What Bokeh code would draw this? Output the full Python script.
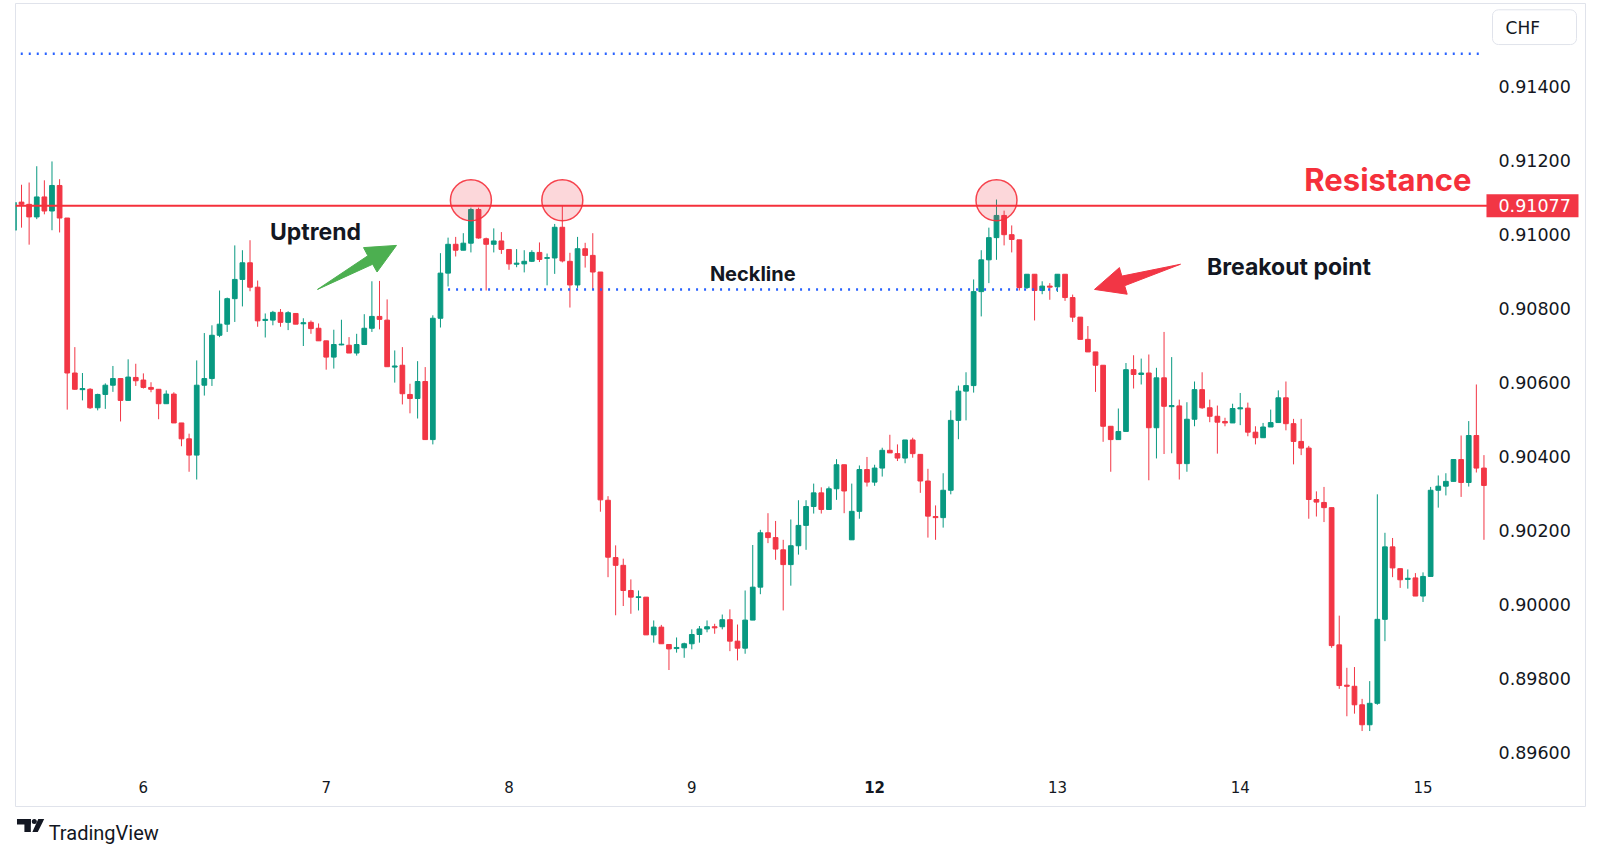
from bokeh.plotting import figure
from bokeh.models import ColumnDataSource, FixedTicker, PrintfTickFormatter, Range1d
from bokeh.layouts import column
from bokeh.embed import file_html
from bokeh.resources import INLINE
from bokeh.core.properties import value

# ---------------- data (hourly candles) ----------------
OPEN = [
    0.91011, 0.91087, 0.91081, 0.91047, 0.91101, 0.91063, 0.91132, 0.91044, 0.90625, 0.90580,
    0.90581, 0.90531, 0.90567, 0.90592, 0.90610, 0.90551, 0.90613, 0.90606, 0.90586, 0.90581,
    0.90542, 0.90568, 0.90490, 0.90447, 0.90403, 0.90592, 0.90610, 0.90727, 0.90757, 0.90826,
    0.90878, 0.90923, 0.90857, 0.90767, 0.90768, 0.90789, 0.90762, 0.90786, 0.90758, 0.90762,
    0.90746, 0.90712, 0.90668, 0.90701, 0.90700, 0.90679, 0.90702, 0.90746, 0.90778, 0.90768,
    0.90641, 0.90646, 0.90567, 0.90556, 0.90602, 0.90445, 0.90773, 0.90895, 0.90973, 0.90957,
    0.90976, 0.91067, 0.90988, 0.90973, 0.90982, 0.90959, 0.90919, 0.90920, 0.90927, 0.90951,
    0.90935, 0.90936, 0.91019, 0.90927, 0.90863, 0.90961, 0.90943, 0.90898, 0.90281, 0.90126,
    0.90105, 0.90037, 0.90018, 0.90019, 0.89917, 0.89938, 0.89891, 0.89880, 0.89882, 0.89893,
    0.89918, 0.89933, 0.89939, 0.89939, 0.89958, 0.89900, 0.89881, 0.89957, 0.90046, 0.90193,
    0.90180, 0.90147, 0.90107, 0.90158, 0.90213, 0.90264, 0.90301, 0.90256, 0.90312, 0.90377,
    0.90174, 0.90251, 0.90364, 0.90330, 0.90368, 0.90416, 0.90407, 0.90395, 0.90444, 0.90405,
    0.90333, 0.90237, 0.90234, 0.90308, 0.90497, 0.90576, 0.90591, 0.90845, 0.90931, 0.90991,
    0.91051, 0.90999, 0.90985, 0.90856, 0.90892, 0.90848, 0.90860, 0.90858, 0.90892, 0.90829,
    0.90776, 0.90716, 0.90682, 0.90646, 0.90481, 0.90445, 0.90467, 0.90634, 0.90621, 0.90625,
    0.90477, 0.90612, 0.90534, 0.90536, 0.90380, 0.90500, 0.90580, 0.90531, 0.90508, 0.90494,
    0.90490, 0.90528, 0.90530, 0.90465, 0.90450, 0.90479, 0.90491, 0.90558, 0.90488, 0.90440,
    0.90422, 0.90283, 0.90275, 0.90261, 0.89890, 0.89781, 0.89778, 0.89728, 0.89674, 0.89732,
    0.89959, 0.90155, 0.90096, 0.90067, 0.90071, 0.90022, 0.90075, 0.90308, 0.90319, 0.90332,
    0.90391, 0.90329, 0.90456, 0.90368,
]
HIGH = [
    0.91092, 0.91134, 0.91140, 0.91184, 0.91146, 0.91197, 0.91149, 0.91044, 0.90695, 0.90625,
    0.90584, 0.90569, 0.90597, 0.90644, 0.90610, 0.90662, 0.90650, 0.90624, 0.90600, 0.90581,
    0.90578, 0.90573, 0.90490, 0.90461, 0.90659, 0.90733, 0.90754, 0.90848, 0.90829, 0.90970,
    0.90957, 0.90984, 0.90875, 0.90786, 0.90793, 0.90798, 0.90792, 0.90786, 0.90773, 0.90767,
    0.90759, 0.90712, 0.90742, 0.90769, 0.90722, 0.90731, 0.90784, 0.90873, 0.90874, 0.90824,
    0.90686, 0.90695, 0.90596, 0.90657, 0.90641, 0.90781, 0.90949, 0.90991, 0.90993, 0.91003,
    0.91072, 0.91072, 0.90991, 0.91016, 0.91006, 0.90959, 0.90960, 0.90957, 0.90957, 0.90978,
    0.90948, 0.91028, 0.91077, 0.90950, 0.90993, 0.90977, 0.91003, 0.90898, 0.90292, 0.90159,
    0.90123, 0.90067, 0.90037, 0.90019, 0.89956, 0.89944, 0.89891, 0.89910, 0.89896, 0.89932,
    0.89941, 0.89956, 0.89947, 0.89972, 0.89986, 0.89945, 0.90037, 0.90160, 0.90201, 0.90246,
    0.90225, 0.90174, 0.90229, 0.90281, 0.90281, 0.90326, 0.90316, 0.90318, 0.90392, 0.90377,
    0.90326, 0.90375, 0.90398, 0.90377, 0.90423, 0.90458, 0.90432, 0.90444, 0.90450, 0.90405,
    0.90366, 0.90267, 0.90354, 0.90524, 0.90591, 0.90627, 0.90878, 0.90957, 0.91018, 0.91094,
    0.91064, 0.91024, 0.90985, 0.90892, 0.90892, 0.90873, 0.90868, 0.90892, 0.90892, 0.90837,
    0.90776, 0.90752, 0.90682, 0.90646, 0.90481, 0.90529, 0.90652, 0.90673, 0.90664, 0.90675,
    0.90639, 0.90736, 0.90668, 0.90553, 0.90546, 0.90602, 0.90627, 0.90553, 0.90537, 0.90504,
    0.90542, 0.90571, 0.90545, 0.90481, 0.90490, 0.90526, 0.90578, 0.90602, 0.90501, 0.90501,
    0.90428, 0.90305, 0.90317, 0.90261, 0.89969, 0.89828, 0.89830, 0.89744, 0.89792, 0.90297,
    0.90193, 0.90179, 0.90096, 0.90094, 0.90084, 0.90086, 0.90317, 0.90348, 0.90354, 0.90391,
    0.90456, 0.90495, 0.90594, 0.90403,
]
LOW = [
    0.91005, 0.91018, 0.90972, 0.91041, 0.91054, 0.91011, 0.91005, 0.90526, 0.90580, 0.90551,
    0.90528, 0.90524, 0.90528, 0.90574, 0.90494, 0.90551, 0.90590, 0.90583, 0.90573, 0.90500,
    0.90542, 0.90490, 0.90427, 0.90358, 0.90337, 0.90564, 0.90590, 0.90722, 0.90736, 0.90763,
    0.90805, 0.90846, 0.90750, 0.90721, 0.90754, 0.90750, 0.90741, 0.90757, 0.90698, 0.90731,
    0.90712, 0.90634, 0.90637, 0.90700, 0.90679, 0.90672, 0.90702, 0.90736, 0.90743, 0.90642,
    0.90599, 0.90540, 0.90516, 0.90502, 0.90445, 0.90432, 0.90748, 0.90859, 0.90940, 0.90957,
    0.90951, 0.90988, 0.90848, 0.90951, 0.90947, 0.90904, 0.90911, 0.90897, 0.90925, 0.90925,
    0.90862, 0.90893, 0.90924, 0.90802, 0.90855, 0.90910, 0.90850, 0.90250, 0.90073, 0.89970,
    0.89995, 0.89974, 0.89983, 0.89917, 0.89896, 0.89893, 0.89822, 0.89869, 0.89855, 0.89878,
    0.89896, 0.89924, 0.89920, 0.89932, 0.89873, 0.89848, 0.89866, 0.89957, 0.90027, 0.90165,
    0.90120, 0.89983, 0.90050, 0.90134, 0.90147, 0.90245, 0.90245, 0.90256, 0.90282, 0.90246,
    0.90174, 0.90231, 0.90318, 0.90320, 0.90345, 0.90409, 0.90387, 0.90381, 0.90396, 0.90301,
    0.90180, 0.90174, 0.90207, 0.90297, 0.90446, 0.90497, 0.90572, 0.90778, 0.90868, 0.90931,
    0.90970, 0.90951, 0.90848, 0.90852, 0.90767, 0.90838, 0.90823, 0.90844, 0.90820, 0.90763,
    0.90716, 0.90682, 0.90574, 0.90439, 0.90358, 0.90445, 0.90467, 0.90583, 0.90594, 0.90335,
    0.90394, 0.90406, 0.90408, 0.90337, 0.90358, 0.90481, 0.90528, 0.90492, 0.90407, 0.90481,
    0.90490, 0.90484, 0.90454, 0.90432, 0.90450, 0.90479, 0.90491, 0.90470, 0.90378, 0.90403,
    0.90231, 0.90237, 0.90222, 0.89882, 0.89771, 0.89697, 0.89704, 0.89657, 0.89657, 0.89728,
    0.89900, 0.90073, 0.90044, 0.90042, 0.90022, 0.90006, 0.90075, 0.90261, 0.90294, 0.90332,
    0.90290, 0.90318, 0.90356, 0.90174,
]
CLOSE = [
    0.91086, 0.91081, 0.91047, 0.91101, 0.91063, 0.91132, 0.91044, 0.90625, 0.90581, 0.90583,
    0.90531, 0.90567, 0.90592, 0.90610, 0.90551, 0.90614, 0.90604, 0.90586, 0.90581, 0.90542,
    0.90568, 0.90490, 0.90447, 0.90403, 0.90592, 0.90610, 0.90727, 0.90757, 0.90826, 0.90878,
    0.90923, 0.90857, 0.90766, 0.90770, 0.90789, 0.90762, 0.90788, 0.90757, 0.90761, 0.90745,
    0.90712, 0.90668, 0.90702, 0.90703, 0.90679, 0.90702, 0.90746, 0.90778, 0.90770, 0.90642,
    0.90644, 0.90569, 0.90556, 0.90602, 0.90445, 0.90773, 0.90895, 0.90973, 0.90957, 0.90976,
    0.91067, 0.90990, 0.90973, 0.90982, 0.90959, 0.90920, 0.90922, 0.90927, 0.90951, 0.90932,
    0.90937, 0.91019, 0.90928, 0.90863, 0.90961, 0.90943, 0.90898, 0.90282, 0.90127, 0.90105,
    0.90037, 0.90019, 0.90020, 0.89917, 0.89938, 0.89893, 0.89879, 0.89883, 0.89893, 0.89918,
    0.89933, 0.89939, 0.89936, 0.89958, 0.89900, 0.89881, 0.89957, 0.90046, 0.90193, 0.90180,
    0.90149, 0.90107, 0.90158, 0.90213, 0.90264, 0.90301, 0.90256, 0.90312, 0.90377, 0.90306,
    0.90251, 0.90364, 0.90330, 0.90368, 0.90416, 0.90409, 0.90395, 0.90444, 0.90407, 0.90333,
    0.90238, 0.90234, 0.90308, 0.90497, 0.90576, 0.90591, 0.90845, 0.90931, 0.90991, 0.91051,
    0.90999, 0.90986, 0.90856, 0.90892, 0.90848, 0.90860, 0.90857, 0.90892, 0.90829, 0.90776,
    0.90716, 0.90682, 0.90646, 0.90481, 0.90445, 0.90467, 0.90634, 0.90621, 0.90625, 0.90477,
    0.90612, 0.90535, 0.90537, 0.90380, 0.90500, 0.90580, 0.90531, 0.90508, 0.90492, 0.90490,
    0.90529, 0.90531, 0.90465, 0.90450, 0.90479, 0.90491, 0.90558, 0.90488, 0.90440, 0.90422,
    0.90283, 0.90276, 0.90261, 0.89888, 0.89780, 0.89778, 0.89728, 0.89674, 0.89732, 0.89959,
    0.90155, 0.90098, 0.90066, 0.90070, 0.90022, 0.90075, 0.90308, 0.90319, 0.90332, 0.90391,
    0.90329, 0.90456, 0.90368, 0.90321,
]

DAY_TICKS = [17, 41, 65, 89, 113, 137, 161, 185]
DAY_LABELS = ["6", "7", "8", "9", "12", "13", "14", "15"]
BOLD_DAY = "12"
PRICE_TICKS = [0.896, 0.898, 0.900, 0.902, 0.904, 0.906, 0.908, 0.910, 0.912, 0.914]
CURRENCY = "CHF"

RESISTANCE = 0.91077
UPPER_LEVEL = 0.91488
NECKLINE = 0.90851
NECK_START, NECK_END = 57, 137
PEAKS = [60, 72, 129]
PEAK_MARK_Y = 0.91092

GREEN_ARROW_X = [39.86, 46.47, 45.90, 50.23, 47.68, 47.10]
GREEN_ARROW_Y = [0.90851, 0.90942, 0.90964, 0.90970, 0.90898, 0.90919]
RED_ARROW_X = [153.16, 145.46, 145.14, 141.87, 146.16, 145.83]
RED_ARROW_Y = [0.90919, 0.90887, 0.90910, 0.90851, 0.90838, 0.90861]

# ---------------- styling / layout ----------------
UP = "#089981"
DOWN = "#f23645"
LINE_RED = "#f5303b"
BLUE = "#2962ff"
TEXT = "#131722"
BORDER = "#e0e3eb"

X_START, X_RIGHT = 0.21, 206.33      # whole bordered panel (price area + price scale)
PRICE_EDGE = 193.46                  # right edge of the price area
Y_BOTTOM, Y_TOP = 0.89453, 0.91624
PX = (Y_TOP - Y_BOTTOM) / 803        # price per pixel
WIDTH = 1586

n = min(len(OPEN), len(HIGH), len(LOW), len(CLOSE))
xs = list(range(n))
body_top = [max(OPEN[i], CLOSE[i]) for i in xs]
body_bot = [min(OPEN[i], CLOSE[i]) for i in xs]
colors = [UP if CLOSE[i] >= OPEN[i] else DOWN for i in xs]
src = ColumnDataSource(dict(x=xs, high=HIGH[:n], low=LOW[:n], top=body_top,
                            bottom=body_bot, color=colors))

p = figure(width=WIDTH, height=807,
           x_range=Range1d(X_START, X_RIGHT), y_range=Range1d(Y_BOTTOM, Y_TOP),
           y_axis_location="right", output_backend="svg", toolbar_location=None,
           min_border=0, min_border_left=15, min_border_right=1,
           min_border_top=3, min_border_bottom=1,
           background_fill_color="white", border_fill_color="white")
p.title.visible = False
p.outline_line_color = BORDER
p.outline_line_width = 1
p.grid.visible = False

# axes: labels drawn inward so they sit inside the bordered panel
xa = p.xaxis[0]
xa.ticker = FixedTicker(ticks=DAY_TICKS)
xa.major_label_overrides = {t: ("" if lab == BOLD_DAY else lab) for t, lab in zip(DAY_TICKS, DAY_LABELS)}
ya = p.yaxis[0]
ya.ticker = FixedTicker(ticks=PRICE_TICKS)
ya.formatter = PrintfTickFormatter(format="%.5f")
for ax, size, stand in ((xa, "15px", -26), (ya, "17.5px", -87)):
    ax.axis_line_color = None
    ax.major_tick_line_color = None
    ax.minor_tick_line_color = None
    ax.major_tick_out = 0
    ax.major_tick_in = 0
    ax.major_label_standoff = stand
    ax.major_label_text_font = "DejaVu Sans"
    ax.major_label_text_font_size = size
    ax.major_label_text_color = TEXT

bold_tick = DAY_TICKS[DAY_LABELS.index(BOLD_DAY)]
p.text(x=[bold_tick], y=[Y_BOTTOM + 26 * PX], text=[BOLD_DAY], text_align="center",
       text_baseline="top", text_font=value("DejaVu Sans"), text_font_style="bold",
       text_font_size=value("15px"), text_color=TEXT)

# candles
p.segment(x0="x", y0="low", x1="x", y1="high", line_color="color", line_width=1, source=src)
p.vbar(x="x", width=0.62, top="top", bottom="bottom", fill_color="color",
       line_color="color", line_width=1, source=src)

# horizontal levels
p.line(x=[0.9, PRICE_EDGE - 0.4], y=[UPPER_LEVEL, UPPER_LEVEL], line_color=BLUE,
       line_width=2.5, line_dash="2 6")
p.line(x=[X_START, PRICE_EDGE], y=[RESISTANCE, RESISTANCE], line_color=LINE_RED, line_width=2)
p.line(x=[NECK_START, NECK_END], y=[NECKLINE, NECKLINE], line_color=BLUE,
       line_width=2.5, line_dash="2 6")

# peak circles
p.scatter(x=PEAKS, y=[PEAK_MARK_Y] * len(PEAKS), marker="circle", size=41,
          fill_color=DOWN, fill_alpha=0.2, line_color=LINE_RED, line_width=1.5, line_alpha=0.9)

# arrows
p.patch(x=GREEN_ARROW_X, y=GREEN_ARROW_Y, fill_color="#4caf50", line_color="#4caf50", line_width=1)
p.patch(x=RED_ARROW_X, y=RED_ARROW_Y, fill_color=DOWN, line_color=DOWN, line_width=1)

# text annotations (y = vertical centre of the text)
def note(x, y, text, size, color=TEXT, align="center"):
    p.text(x=[x], y=[y], text=[text], text_align=align, text_baseline="middle",
           text_font=value("Inter"), text_font_style="bold",
           text_font_size=value(size), text_color=color)

note(39.6, 0.91005, "Uptrend", "23px")
note(97.0, 0.90893, "Neckline", "20px")
note(167.4, 0.90912, "Breakout point", "23px")
note(191.35, 0.91147, "Resistance", "31px", color=LINE_RED, align="right")

# price tag on the scale
p.quad(left=[PRICE_EDGE - 0.13], right=[205.41], bottom=[RESISTANCE - 11.5 * PX],
       top=[RESISTANCE + 11.5 * PX], fill_color=DOWN, line_color=None)
p.text(x=[194.9], y=[RESISTANCE], text=[f"{RESISTANCE:.5f}"], text_align="left",
       text_baseline="middle", text_font=value("DejaVu Sans"),
       text_font_size=value("17.5px"), text_color="white")

# currency box
p.quad(left=[194.12], right=[205.15], bottom=[0.91513], top=[0.91607],
       fill_color="white", line_color=BORDER, line_width=1, border_radius=6)
p.text(x=[195.83], y=[0.91559], text=[CURRENCY], text_align="left", text_baseline="middle",
       text_font=value("DejaVu Sans"), text_font_size=value("17px"), text_color=TEXT)

# ---------------- logo strip ----------------
logo = figure(width=WIDTH, height=51, x_range=Range1d(0, WIDTH), y_range=Range1d(0, 51),
              output_backend="svg", toolbar_location=None, min_border=0,
              min_border_left=0, min_border_right=0, min_border_top=0, min_border_bottom=0,
              x_axis_location=None, y_axis_location=None)
logo.title.visible = False
logo.outline_line_color = None
logo.grid.visible = False
logo.quad(left=[1.5, 9], right=[15.5, 15.5], bottom=[34, 26.5], top=[39.5, 39.5],
          fill_color=TEXT, line_color=None)
logo.scatter(x=[19], y=[36.9], marker="circle", size=5, fill_color=TEXT, line_color=None)
logo.patch(x=[23, 29, 22.5, 17], y=[39.5, 39.5, 26.5, 26.5], fill_color=TEXT, line_color=None)
logo.text(x=[33.5], y=[25.5], text=["TradingView"], text_font=value("Roboto"),
          text_font_size=value("20px"), text_color=TEXT, text_baseline="alphabetic",
          text_align="left")

layout = column(p, logo, spacing=0)
open("out.html", "w").write(file_html(layout, INLINE, title="USD/CHF double top"))
